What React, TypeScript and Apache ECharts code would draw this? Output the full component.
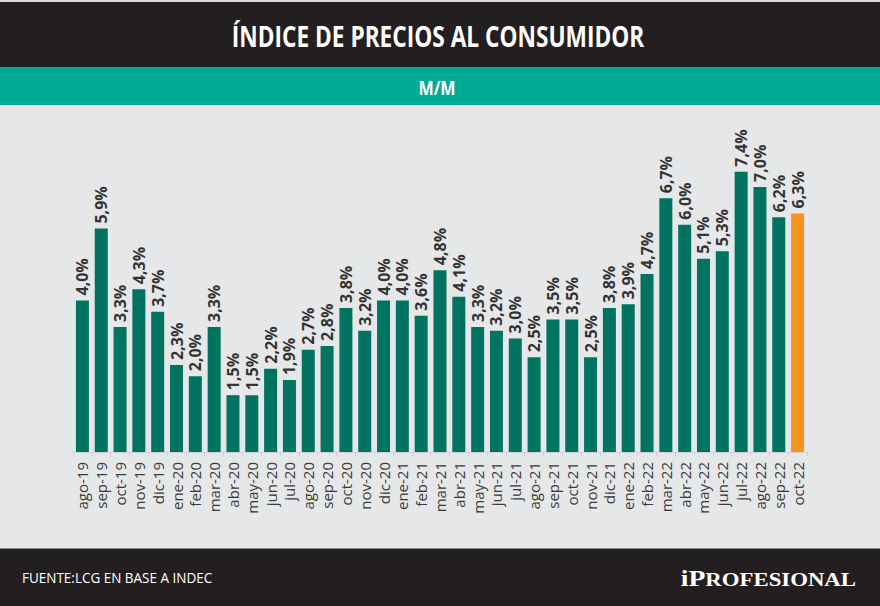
import React, { useEffect, useRef } from "react";
import * as echarts from "echarts";

const categories = [
  "ago-19", "sep-19", "oct-19", "nov-19", "dic-19", "ene-20", "feb-20", "mar-20",
  "abr-20", "may-20", "jun-20", "jul-20", "ago-20", "sep-20", "oct-20", "nov-20",
  "dic-20", "ene-21", "feb-21", "mar-21", "abr-21", "may-21", "jun-21", "jul-21",
  "ago-21", "sep-21", "oct-21", "nov-21", "dic-21", "ene-22", "feb-22", "mar-22",
  "abr-22", "may-22", "jun-22", "jul-22", "ago-22", "sep-22", "oct-22",
];

const values = [
  4.0, 5.9, 3.3, 4.3, 3.7, 2.3, 2.0, 3.3,
  1.5, 1.5, 2.2, 1.9, 2.7, 2.8, 3.8, 3.2,
  4.0, 4.0, 3.6, 4.8, 4.1, 3.3, 3.2, 3.0,
  2.5, 3.5, 3.5, 2.5, 3.8, 3.9, 4.7, 6.7,
  6.0, 5.1, 5.3, 7.4, 7.0, 6.2, 6.3,
];

const highlighted = ["oct-22"];

const title = "ÍNDICE DE PRECIOS AL CONSUMIDOR";
const subtitle = "M/M";
const source = "FUENTE:LCG EN BASE A INDEC";

const GREEN = "#017461";
const ORANGE = "#f7941d";

export default function App() {
  const ref = useRef<HTMLDivElement>(null);

  useEffect(() => {
    if (!ref.current) return;
    const chart = echarts.init(ref.current, null, { renderer: "svg" });
    const data = values.map((v, i) =>
      highlighted.includes(categories[i])
        ? { value: v, itemStyle: { color: ORANGE } }
        : { value: v }
    );
    chart.setOption({
      animation: false,
      backgroundColor: "#e6e7e8",
      grid: { left: 73, right: 73, top: 149, bottom: 154, containLabel: false },
      xAxis: {
        type: "category",
        data: categories,
        axisLine: { show: true, lineStyle: { color: "#d2d3d4", width: 1 } },
        axisTick: { show: true, length: 4, lineStyle: { color: "#cfd0d1" } },
        axisLabel: {
          rotate: 90,
          margin: 10,
          fontSize: 15,
          fontFamily: "Open Sans",
          color: "#3a3a3a",
          interval: 0,
        },
      },
      yAxis: {
        type: "value",
        min: 0,
        max: 8,
        show: false,
        splitLine: { show: false },
      },
      series: [
        {
          type: "bar",
          data,
          barWidth: 13,
          itemStyle: { color: GREEN },
          label: {
            show: true,
            position: "top",
            rotate: 90,
            align: "left",
            verticalAlign: "middle",
            distance: 5,
            fontSize: 16,
            fontWeight: "bold",
            fontFamily: "Open Sans",
            color: "#333333",
            formatter: (p: any) => p.value.toFixed(1).replace(".", ",") + "%",
          },
        },
      ],
      graphic: [
        { type: "rect", left: 0, top: 0, shape: { width: 880, height: 67 }, style: { fill: "#231f20" } },
        { type: "rect", left: 0, top: 0, shape: { width: 880, height: 2 }, style: { fill: "#d9d9d9" } },
        { type: "rect", left: 0, top: 67, shape: { width: 880, height: 38 }, style: { fill: "#00ab96" } },
        {
          type: "text",
          x: 438,
          y: 36,
          scaleX: 0.81,
          style: {
            text: title,
            fill: "#ffffff",
            font: "bold 28px 'Open Sans'",
            align: "center",
            verticalAlign: "middle",
          },
        },
        {
          type: "text",
          x: 437,
          y: 87,
          scaleX: 0.85,
          style: {
            text: subtitle,
            fill: "#ffffff",
            font: "bold 19px 'Open Sans'",
            align: "center",
            verticalAlign: "middle",
          },
        },
        { type: "rect", left: 0, top: 549, shape: { width: 880, height: 57 }, style: { fill: "#231f20" } },
        { type: "rect", left: 0, top: 548, shape: { width: 880, height: 1 }, style: { fill: "#8a8a8a" } },
        {
          type: "text",
          x: 22,
          y: 577,
          scaleX: 0.9,
          style: {
            text: source,
            fill: "#ffffff",
            font: "15px 'Open Sans'",
            align: "left",
            verticalAlign: "middle",
          },
        },
        {
          type: "text",
          x: 856,
          y: 578,
          scaleX: 1.2,
          style: {
            text: "{a|i}{b|P}{c|ROFESIONAL}",
            align: "right",
            verticalAlign: "middle",
            fill: "#ffffff",
            rich: {
              a: { fontFamily: "Liberation Serif", fontWeight: "bold", fontSize: 23, fill: "#ffffff", verticalAlign: "bottom" },
              b: { fontFamily: "Liberation Serif", fontWeight: "bold", fontSize: 23, fill: "#ffffff", verticalAlign: "bottom" },
              c: { fontFamily: "Liberation Serif", fontWeight: "bold", fontSize: 19, fill: "#ffffff", verticalAlign: "bottom" },
            },
          },
        },
      ],
    });
    return () => chart.dispose();
  }, []);

  return (
    <div
      ref={ref}
      style={{ width: 880, height: 606, position: "absolute", left: 0, top: 0 }}
    />
  );
}
